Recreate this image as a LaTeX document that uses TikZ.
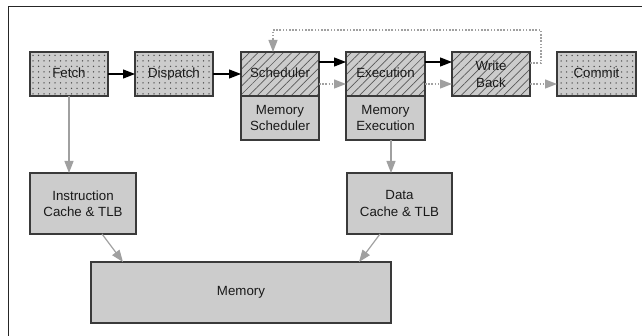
\documentclass[tikz,border=0pt]{standalone}
\usepackage{fontspec}
\setmainfont{Liberation Sans}
\usetikzlibrary{arrows.meta,patterns.meta}
\definecolor{boxfill}{HTML}{CCCCCC}
\definecolor{boxline}{HTML}{3A3A3A}
\definecolor{linkgray}{HTML}{A0A0A0}
\tikzset{
  unit/.style={draw=boxline, line width=1.3pt, fill=boxfill, inner sep=1pt, outer sep=0pt,
    align=center, font=\fontsize{13.3}{16.5}\selectfont, text=black!90},
  oneline/.style={text height=9.5pt, text depth=2.8pt},
  dotted box/.style={unit, oneline, preaction={fill=boxfill},
    pattern={Dots[distance=5.5pt,radius=0.75pt]}, pattern color=black!70},
  hatched box/.style={unit, preaction={fill=boxfill},
    pattern={Lines[angle=45,distance=6pt,line width=0.7pt]}, pattern color=black!65},
  flow/.style={line width=1.2pt, black, -{Triangle[length=12pt,width=9pt]}},
  memflow/.style={line width=1.2pt, linkgray, -{Triangle[length=12pt,width=9pt]}},
  spec/.style={line width=1.3pt, linkgray, dash pattern=on 1.6pt off 1.6pt,
    -{Triangle[length=12pt,width=9pt]}},
}
\begin{document}
\begin{tikzpicture}[x=1pt,y=-1pt]
  \useasboundingbox (0,0) rectangle (642,336);
  % frame: top and left edges
  \draw[line width=1.3pt, black!85] (642,6.5) -- (8.5,6.5) -- (8.5,336);

  % pipeline stages
  \node[dotted box, minimum width=78pt, minimum height=44pt] (fetch) at (69,74) {Fetch};
  \node[dotted box, minimum width=78pt, minimum height=44pt] (dispatch) at (174,74) {Dispatch};
  \node[hatched box, oneline, minimum width=78pt, minimum height=44pt] (sched) at (280,74) {Scheduler};
  \node[unit, minimum width=78pt, minimum height=44pt] (memsched) at (280,118) {Memory\\Scheduler};
  \node[hatched box, oneline, minimum width=79pt, minimum height=44pt] (exec) at (385.5,74) {Execution};
  \node[unit, minimum width=79pt, minimum height=44pt] (memexec) at (385.5,118) {Memory\\Execution};
  \node[hatched box, minimum width=78pt, minimum height=44pt] (wb) at (491,74) {Write\\Back};
  \node[dotted box, minimum width=79pt, minimum height=44pt] (commit) at (596.5,74) {Commit};

  % memory hierarchy
  \node[unit, minimum width=106pt, minimum height=61pt] (icache) at (83,203.5) {Instruction\\Cache \& TLB};
  \node[unit, minimum width=105pt, minimum height=61pt] (dcache) at (399.5,203.5) {Data\\Cache \& TLB};
  \node[unit, oneline, minimum width=300pt, minimum height=61pt] (mem) at (241,292.5) {Memory};

  % in-order flow
  \draw[flow] (fetch) -- (dispatch);
  \draw[flow] (dispatch) -- (sched);
  \draw[flow] ([yshift=12pt]sched.east) -- ([yshift=12pt]exec.west);
  \draw[flow] ([yshift=12pt]exec.east) -- ([yshift=12pt]wb.west);

  % speculative path
  \draw[spec] ([yshift=-10pt]sched.east) -- ([yshift=-10pt]exec.west);
  \draw[spec] ([yshift=-10pt]exec.east) -- ([yshift=-10pt]wb.west);
  \draw[spec] ([yshift=-10pt]wb.east) -- ([yshift=-10pt]commit.west);
  \coordinate (loop) at (541,30);
  \draw[spec] ([yshift=11pt]wb.east) -| (loop) -| ([xshift=-7pt]sched.north);

  % memory accesses
  \draw[memflow] (fetch.south) -- (fetch.south |- icache.north);
  \draw[memflow] ([xshift=5.5pt]memexec.south) -- ([xshift=5.5pt]memexec.south |- dcache.north);
  \draw[memflow] ([xshift=19pt]icache.south) -- ([xshift=-118pt]mem.north);
  \draw[memflow] ([xshift=-19.5pt]dcache.south) -- ([xshift=118pt]mem.north);
\end{tikzpicture}
\end{document}
